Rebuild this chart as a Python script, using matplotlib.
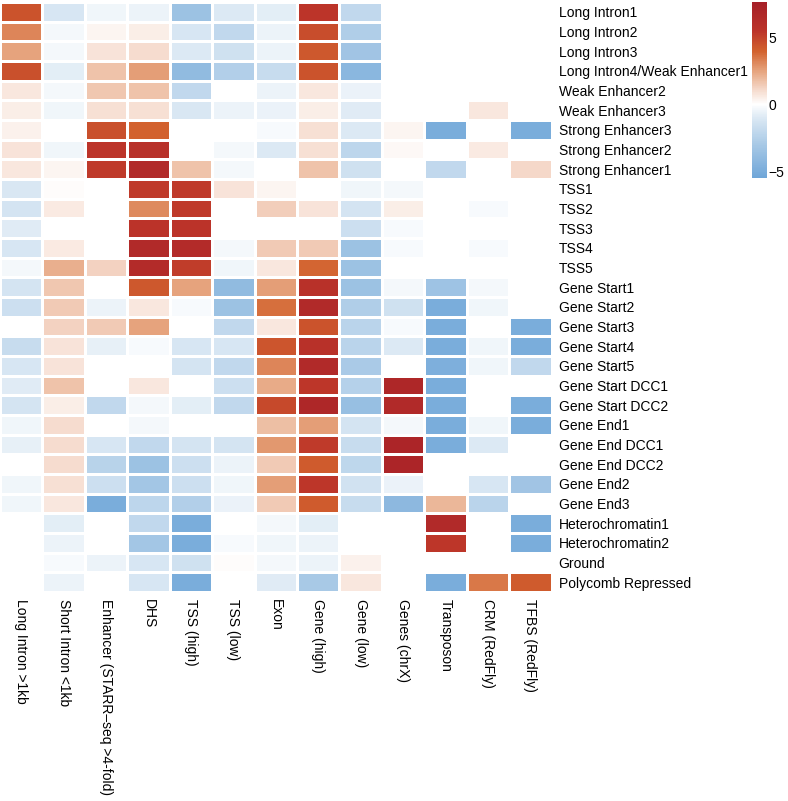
import numpy as np
import matplotlib
matplotlib.use("Agg")
import matplotlib.pyplot as plt
from matplotlib.colors import LinearSegmentedColormap

plt.rcParams['font.family'] = ['Liberation Sans', 'DejaVu Sans']

states = ["Long Intron1", "Long Intron2", "Long Intron3", "Long Intron4/Weak Enhancer1",
          "Weak Enhancer2", "Weak Enhancer3", "Strong Enhancer3", "Strong Enhancer2",
          "Strong Enhancer1", "TSS1", "TSS2", "TSS3", "TSS4", "TSS5",
          "Gene Start1", "Gene Start2", "Gene Start3", "Gene Start4", "Gene Start5",
          "Gene Start DCC1", "Gene Start DCC2", "Gene End1", "Gene End DCC1", "Gene End DCC2",
          "Gene End2", "Gene End3", "Heterochromatin1", "Heterochromatin2", "Ground",
          "Polycomb Repressed"]

features = ["Long Intron >1kb", "Short Intron <1kb", "Enhancer (STARR\u2013seq >4-fold)", "DHS",
            "TSS (high)", "TSS (low)", "Exon", "Gene (high)", "Gene (low)", "Genes (chrX)",
            "Transposon", "CRM (RedFly)", "TFBS (RedFly)"]

# enrichment values, rows = states, cols = features
enrichment = np.array([
    [ 4.5, -1.2, -0.4, -0.5, -3.5, -1.0, -0.8,  5.5, -2.0,  0.0,  0.0,  0.0,  0.0],
    [ 3.2, -0.3,  0.3,  0.5, -1.2, -2.0, -0.5,  4.7, -2.7,  0.0,  0.0,  0.0,  0.0],
    [ 2.5, -0.3,  0.8,  1.0, -1.0, -1.5, -0.5,  4.3, -3.3,  0.0,  0.0,  0.0,  0.0],
    [ 4.6, -0.8,  1.7,  2.6, -4.0, -2.6, -1.8,  4.5, -4.3,  0.0,  0.0,  0.0,  0.0],
    [ 0.7, -0.3,  1.6,  1.7, -2.0,  0.0, -0.5,  0.7, -0.6,  0.0,  0.0,  0.0,  0.0],
    [ 0.5, -0.4,  0.9,  0.9, -1.1, -0.5, -0.6,  0.5, -0.9,  0.0,  0.0,  0.7,  0.0],
    [ 0.4,  0.0,  4.6,  4.0,  0.0,  0.0, -0.2,  0.9, -1.0,  0.3, -5.0,  0.0, -5.0],
    [ 0.8, -0.4,  5.5,  5.8,  0.0, -0.3, -1.0,  0.9, -2.2,  0.2,  0.0,  0.6,  0.0],
    [ 0.7,  0.3,  5.3,  6.5,  1.7, -0.3,  0.0,  1.7, -1.5,  0.0, -2.0,  0.0,  1.1],
    [-1.1,  0.1,  0.0,  5.3,  5.3,  0.8,  0.3,  0.0, -0.4, -0.3,  0.0,  0.0,  0.0],
    [-1.3,  0.6,  0.0,  3.1,  5.3,  0.0,  1.4,  0.8, -1.3,  0.5,  0.0, -0.2,  0.0],
    [-0.9,  0.0,  0.0,  5.6,  5.6,  0.0,  0.0,  0.0, -1.6, -0.2,  0.0,  0.0,  0.0],
    [-1.2,  0.6,  0.0,  6.5,  6.4, -0.3,  1.5,  1.5, -3.5, -0.2,  0.0, -0.2,  0.0],
    [-0.3,  2.2,  1.3,  6.4,  5.2, -0.4,  0.7,  3.9, -3.5,  0.0,  0.0,  0.0,  0.0],
    [-1.3,  1.6,  0.0,  4.3,  2.5, -4.0,  2.6,  5.8, -3.5, -0.3, -3.4, -0.3,  0.0],
    [-1.6,  1.5, -0.5,  0.7, -0.2, -3.5,  3.7,  6.5, -2.7, -1.5, -5.0, -0.4,  0.0],
    [ 0.0,  1.3,  1.5,  2.5,  0.0, -2.0,  0.7,  4.5, -2.3, -0.2, -5.0,  0.0, -5.0],
    [-1.8,  0.8, -0.7, -0.2, -1.2, -1.2,  4.4,  5.8, -2.3, -1.0, -5.0, -0.4, -5.0],
    [-1.2,  0.8,  0.0,  0.0, -1.3, -2.0,  3.2,  6.5, -2.9,  0.0, -4.8, -0.4, -2.0],
    [-0.9,  1.7,  0.0,  0.7,  0.0, -1.6,  2.3,  5.4, -2.5,  6.8, -5.0,  0.0,  0.0],
    [-1.3,  0.5, -2.0, -0.3, -0.8, -2.0,  4.8,  6.8, -3.7,  6.5, -5.0,  0.0, -5.0],
    [-0.4,  1.0,  0.0, -0.3,  0.0,  0.0,  1.8,  2.6, -1.3, -0.3, -5.0, -0.4, -5.0],
    [-0.7,  1.0, -1.2, -2.0, -1.3, -1.3,  2.8,  5.3, -1.8,  7.0, -5.0, -1.0,  0.0],
    [ 0.0,  1.0, -2.4, -3.5, -1.6, -0.5,  1.5,  4.2, -2.1,  7.0,  0.0,  0.0,  0.0],
    [-0.4,  0.9, -1.6, -3.2, -1.6, -0.4,  2.6,  5.4, -1.4, -0.6,  0.0, -1.2, -3.3],
    [-0.4,  0.7, -5.0, -2.2, -2.6, -0.6,  1.5,  4.2, -1.8, -4.2,  2.0, -2.3,  0.0],
    [ 0.0, -0.8,  0.0, -2.0, -5.0,  0.0, -0.3, -0.8,  0.0,  0.0,  6.5,  0.0, -5.0],
    [ 0.0, -0.5,  0.0, -3.2, -5.0, -0.2, -0.4, -0.5,  0.0,  0.0,  5.4,  0.0, -5.0],
    [ 0.0, -0.2, -0.5, -1.2, -1.5,  0.1, -0.3, -0.5,  0.4,  0.0,  0.0,  0.0,  0.0],
    [ 0.0, -0.5,  0.0, -1.2, -5.0,  0.0, -0.9, -3.0,  0.7,  0.0, -5.0,  3.5,  4.2],
])

vmin, vmax = -5.5, 7.7
nodes = [(-5.5, '#6fa6d8'), (-3.0, '#a8c9e6'), (-1.0, '#dce9f4'), (0.0, '#ffffff'),
         (1.0, '#f6ddd0'), (2.5, '#e6a47e'), (4.0, '#d2622e'), (5.5, '#bc3429'),
         (7.7, '#a51f28')]
cmap = LinearSegmentedColormap.from_list(
    'rb', [((v - vmin) / (vmax - vmin), c) for v, c in nodes])

fig = plt.figure(figsize=(7.88, 8.01), dpi=100)
ax = fig.add_axes([0.0, 0.261, 0.700, 0.7365])
cax = fig.add_axes([0.954, 0.778, 0.019, 0.22])

mesh = ax.pcolormesh(enrichment, cmap=cmap, vmin=vmin, vmax=vmax,
                     edgecolors='white', linewidth=1)
ax.set_xlim(0, len(features))
ax.set_ylim(len(states), 0)
ax.set_xticks(np.arange(len(features)) + 0.5)
ax.set_xticklabels(features, rotation=-90, fontsize=10, va='top', ha='center')
ax.set_yticks(np.arange(len(states)) + 0.5)
ax.set_yticklabels(states, fontsize=10)
ax.yaxis.tick_right()
ax.tick_params(length=0, pad=5)
for s in ax.spines.values():
    s.set_visible(False)

cb = fig.colorbar(mesh, cax=cax, ticks=[-5, 0, 5])
cb.outline.set_visible(False)
cb.ax.tick_params(length=0, labelsize=10, pad=1)
cb.ax.set_yticklabels(['\u22125', '0', '5'])

fig.savefig('out.png', dpi=100)
